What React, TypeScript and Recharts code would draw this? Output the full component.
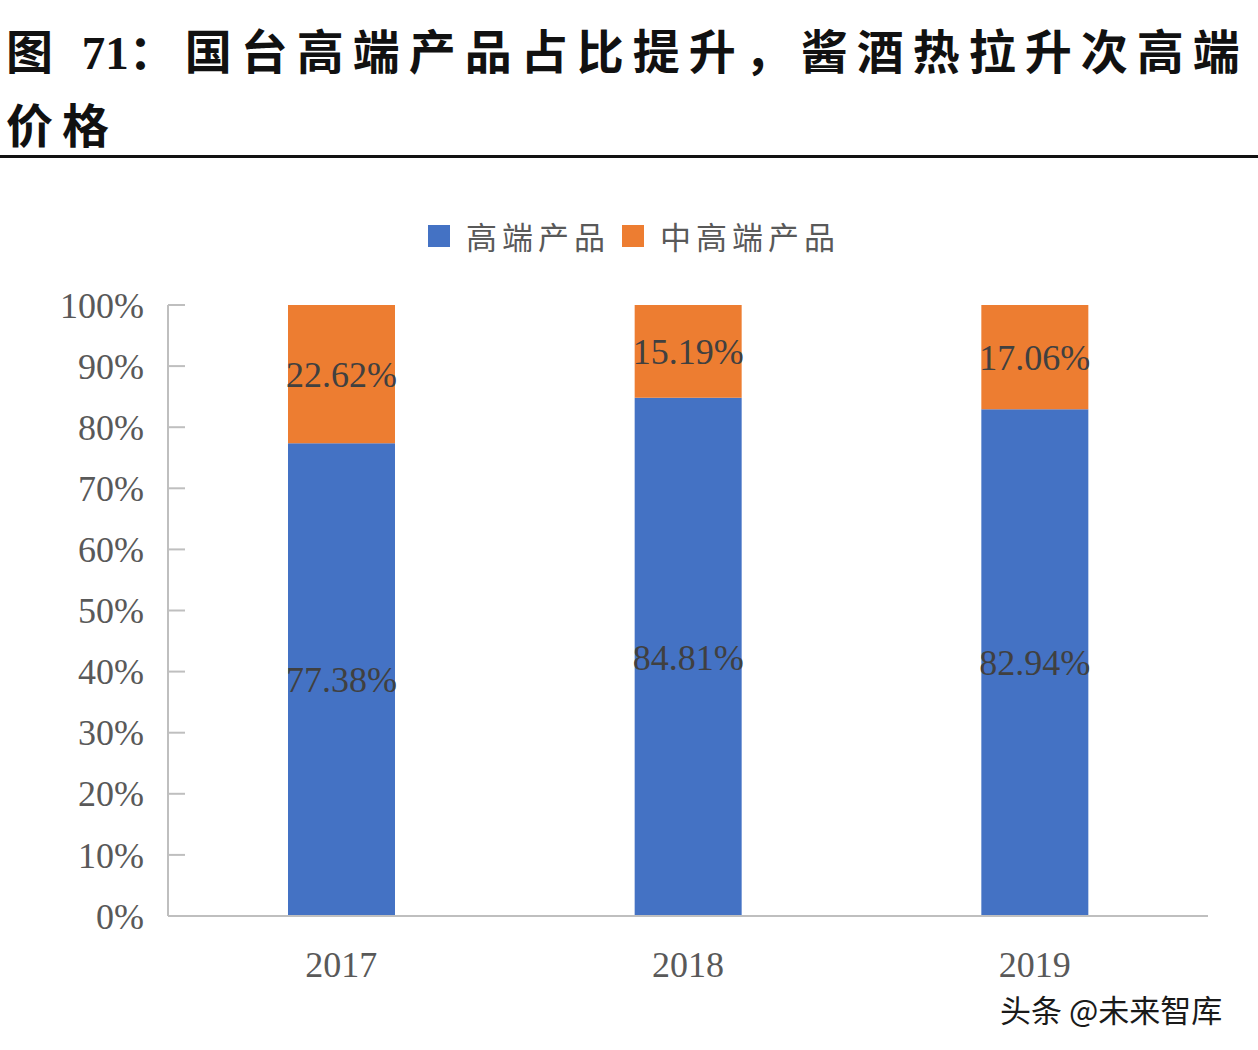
import { BarChart, Bar, XAxis, YAxis, LabelList } from "recharts";

const years = ["2017", "2018", "2019"];
const highEnd = [77.38, 84.81, 82.94];
const midHighEnd = [22.62, 15.19, 17.06];
const yTicks = [0, 10, 20, 30, 40, 50, 60, 70, 80, 90, 100];

const BLUE = "#4472C4";
const ORANGE = "#ED7D31";
const SERIF = '"Liberation Serif", "DejaVu Serif", serif';
const CJK = '"Noto Sans CJK SC", "Noto Sans", sans-serif';

const data = years.map((y, i) => ({ year: y, high: highEnd[i], mid: midHighEnd[i] }));

const YTick = (props: any) => {
  const { x, y, payload } = props;
  return (
    <g>
      <line x1={x} x2={x + 17} y1={y} y2={y} stroke="#bfbfbf" strokeWidth={2} />
      <text x={x - 24} y={y} dy="0.35em" textAnchor="end" fontFamily={SERIF} fontSize={36} fill="#595959">
        {payload.value}%
      </text>
    </g>
  );
};

const LegendContent = () => (
  <div style={{ display: "flex", justifyContent: "center", alignItems: "center", fontFamily: CJK, fontSize: 31, color: "#595959", letterSpacing: 5 }}>
    <span style={{ width: 22, height: 22, background: BLUE, display: "inline-block", marginRight: 16 }} />
    <span style={{ marginRight: 12 }}>高端产品</span>
    <span style={{ width: 22, height: 22, background: ORANGE, display: "inline-block", marginRight: 16 }} />
    <span>中高端产品</span>
  </div>
);

const pct = (v: any) => `${Number(v).toFixed(2)}%`;

export default function App() {
  return (
    <div style={{ position: "absolute", left: 0, top: 0, width: 1258, height: 1050, background: "#fff", overflow: "hidden" }}>
      <div style={{ position: "absolute", left: 6, top: 14, whiteSpace: "nowrap", fontFamily: CJK, fontWeight: 700, fontSize: 47, letterSpacing: 9, color: "#111", lineHeight: "70px" }}>
        <div>
          图 <span style={{ fontFamily: SERIF, letterSpacing: 0 }}>71</span>：国台高端产品占比提升，酱酒热拉升次高端
        </div>
        <div>价格</div>
      </div>
      <div style={{ position: "absolute", left: 0, top: 155, width: 1258, height: 3, background: "#111" }} />

      <div style={{ position: "absolute", left: 0, top: 0 }}>
        <BarChart width={1258} height={1050} data={data} margin={{ top: 305, right: 50, bottom: 74, left: 68 }}>
          <XAxis dataKey="year" axisLine={{ stroke: "#bfbfbf", strokeWidth: 2 }} tickLine={false} tickSize={0} tickMargin={35}
            tick={{ fontFamily: SERIF, fontSize: 36, fill: "#595959" }} height={60} />
          <YAxis domain={[0, 100]} ticks={yTicks} width={100} tickSize={0} tickMargin={0} tickLine={false}
            axisLine={{ stroke: "#bfbfbf", strokeWidth: 2 }} tick={<YTick />} interval={0} />
          <Bar dataKey="high" stackId="a" fill={BLUE} barSize={107} isAnimationActive={false}>
            <LabelList dataKey="high" position="center" formatter={pct}
              style={{ fontFamily: SERIF, fontSize: 36, fill: "#404040" }} />
          </Bar>
          <Bar dataKey="mid" stackId="a" fill={ORANGE} barSize={107} isAnimationActive={false}>
            <LabelList dataKey="mid" position="center" formatter={pct}
              style={{ fontFamily: SERIF, fontSize: 36, fill: "#404040" }} />
          </Bar>
        </BarChart>
      </div>

      <div style={{ position: "absolute", left: 0, top: 213, width: 1268 }}>
        <LegendContent />
      </div>

      <div style={{ position: "absolute", left: 1000, top: 986, fontFamily: CJK, fontSize: 31, color: "#1a1a1a", whiteSpace: "nowrap" }}>
        头条 @未来智库
      </div>
    </div>
  );
}
